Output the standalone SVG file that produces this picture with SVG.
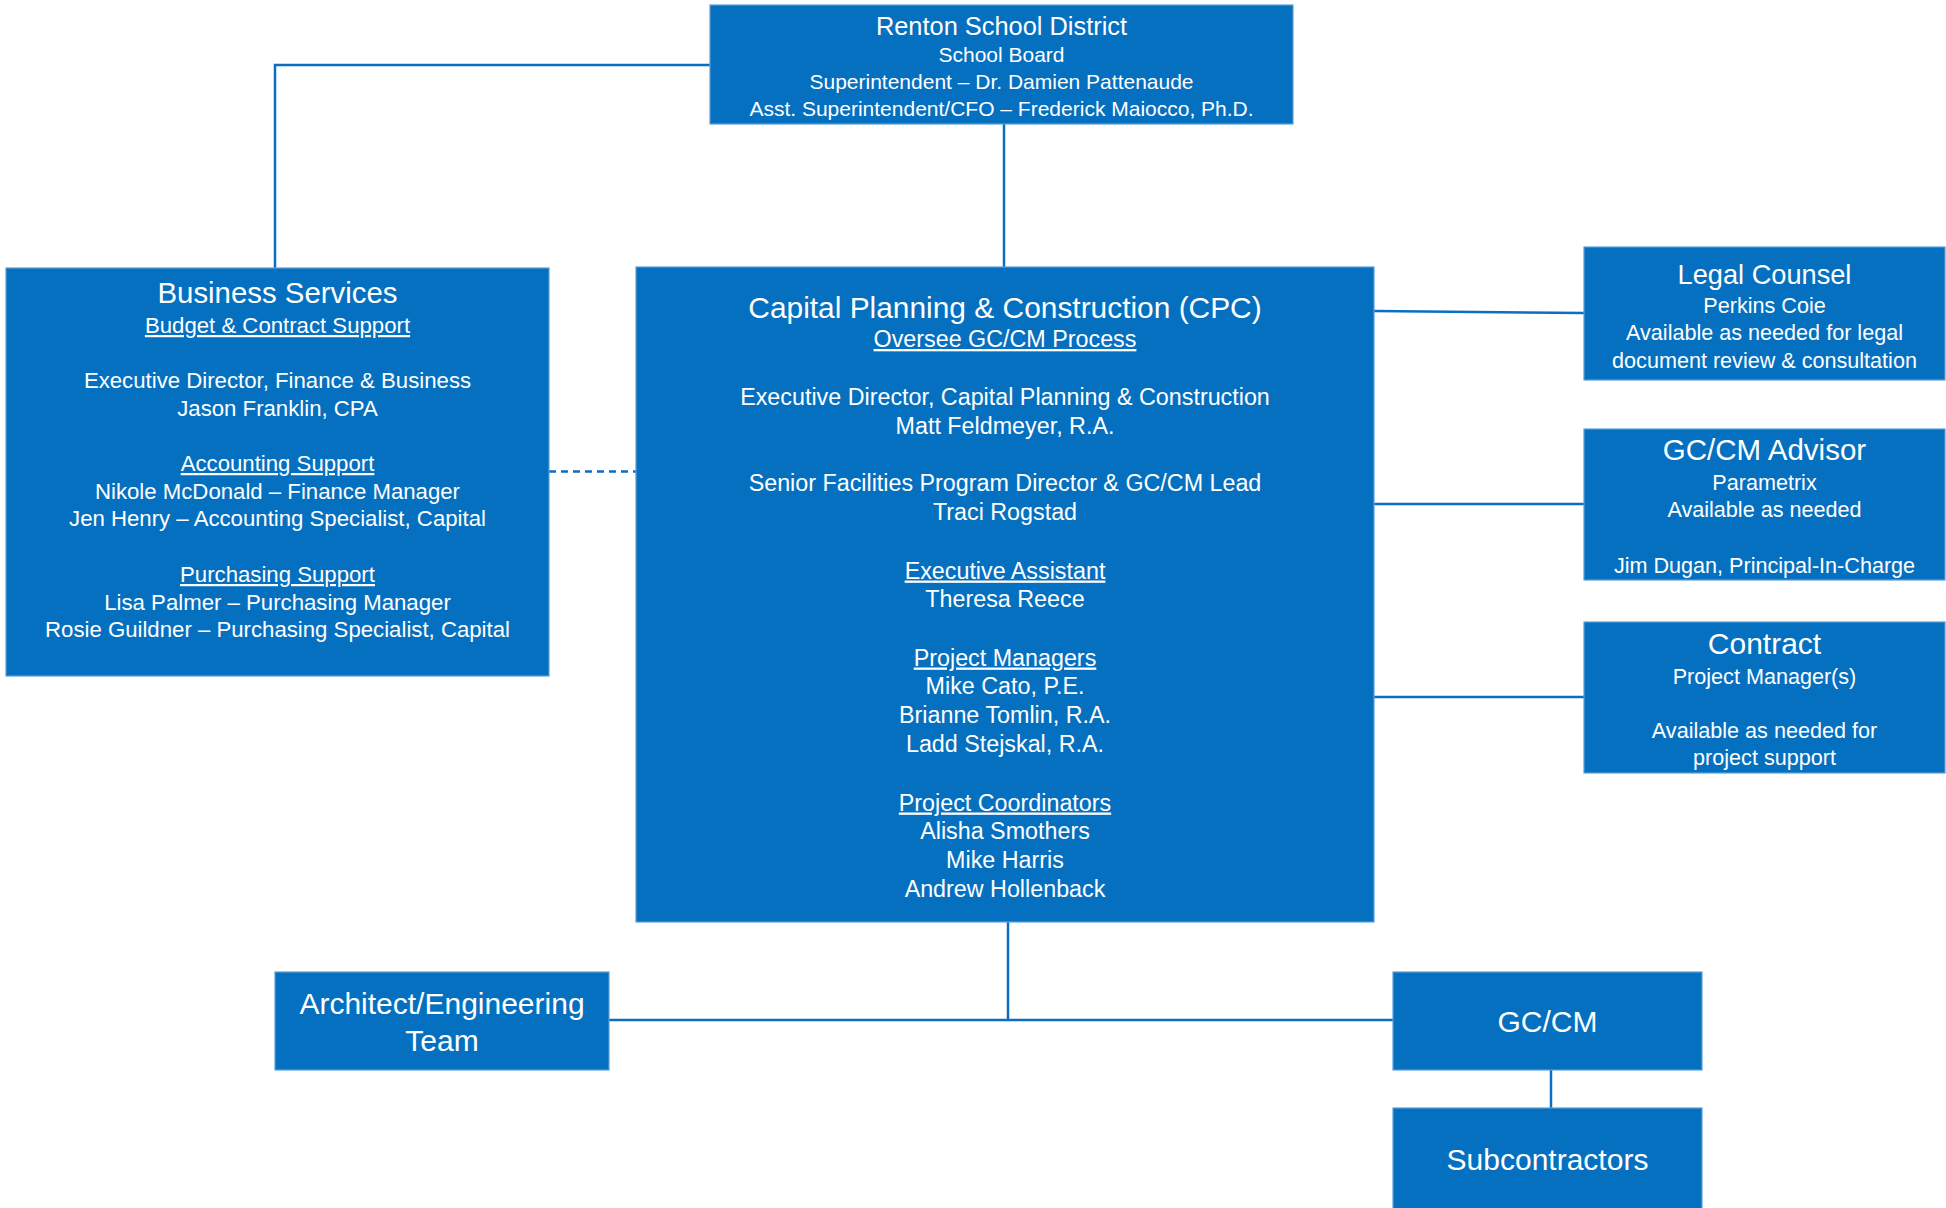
<svg xmlns="http://www.w3.org/2000/svg" width="1946" height="1208" viewBox="0 0 1946 1208">
  <style>
    .box { fill: #0570C0; stroke: #5A9FD8; stroke-width: 1.2; }
    .link { fill: none; stroke: #0A6EC2; stroke-width: 2.5; }
    .dash { stroke-dasharray: 7 5; }
    text { font-family: "Liberation Sans", Arial, sans-serif; fill: #FFFFFF; text-anchor: middle; }
    .t-top { font-size: 25.4px; }
    .b-top { font-size: 21px; }
    .t-bs { font-size: 29.4px; }
    .b-bs { font-size: 22.2px; }
    .t-cpc { font-size: 29.9px; }
    .b-cpc { font-size: 23.3px; }
    .t-side { font-size: 28px; }
    .b-side { font-size: 21.6px; }
    .t-low { font-size: 30px; }
    .u { text-decoration: underline; }
  </style>

  <!-- connectors -->
  <g id="connectors">
    <path class="link" d="M710 65 H275 V268"/>
    <path class="link" d="M1004 124 V267"/>
    <path class="link" d="M1374 311 L1584 313"/>
    <path class="link" d="M1374 504 H1584"/>
    <path class="link" d="M1374 697 H1584"/>
    <path class="link dash" d="M549 471.5 H636"/>
    <path class="link" d="M1008 922 V1020"/>
    <path class="link" d="M609 1020 H1393"/>
    <path class="link" d="M1551 1070 V1108"/>
  </g>

  <!-- district -->
  <g id="renton-school-district">
    <rect class="box" x="710" y="5" width="583" height="119"/>
    <text class="t-top" x="1001.5" y="35">Renton School District</text>
    <text class="b-top" x="1001.5" y="62">School Board</text>
    <text class="b-top" x="1001.5" y="89">Superintendent – Dr. Damien Pattenaude</text>
    <text class="b-top" x="1001.5" y="116">Asst. Superintendent/CFO – Frederick Maiocco, Ph.D.</text>
  </g>

  <!-- business services -->
  <g id="business-services">
    <rect class="box" x="6" y="268" width="543" height="408"/>
    <text class="t-bs" x="277.5" y="303">Business Services</text>
    <text class="b-bs u" x="277.5" y="333">Budget &amp; Contract Support</text>
    <text class="b-bs" x="277.5" y="388">Executive Director, Finance &amp; Business</text>
    <text class="b-bs" x="277.5" y="416">Jason Franklin, CPA</text>
    <text class="b-bs u" x="277.5" y="471">Accounting Support</text>
    <text class="b-bs" x="277.5" y="499">Nikole McDonald – Finance Manager</text>
    <text class="b-bs" x="277.5" y="526">Jen Henry – Accounting Specialist, Capital</text>
    <text class="b-bs u" x="277.5" y="582">Purchasing Support</text>
    <text class="b-bs" x="277.5" y="610">Lisa Palmer – Purchasing Manager</text>
    <text class="b-bs" x="277.5" y="637">Rosie Guildner – Purchasing Specialist, Capital</text>
  </g>

  <!-- capital planning & construction -->
  <g id="cpc">
    <rect class="box" x="636" y="267" width="738" height="655"/>
    <text class="t-cpc" x="1005" y="318">Capital Planning &amp; Construction (CPC)</text>
    <text class="b-cpc u" x="1005" y="347">Oversee GC/CM Process</text>
    <text class="b-cpc" x="1005" y="404.5">Executive Director, Capital Planning &amp; Construction</text>
    <text class="b-cpc" x="1005" y="433.5">Matt Feldmeyer, R.A.</text>
    <text class="b-cpc" x="1005" y="491">Senior Facilities Program Director &amp; GC/CM Lead</text>
    <text class="b-cpc" x="1005" y="520">Traci Rogstad</text>
    <text class="b-cpc u" x="1005" y="578.5">Executive Assistant</text>
    <text class="b-cpc" x="1005" y="607">Theresa Reece</text>
    <text class="b-cpc u" x="1005" y="665.5">Project Managers</text>
    <text class="b-cpc" x="1005" y="694">Mike Cato, P.E.</text>
    <text class="b-cpc" x="1005" y="723">Brianne Tomlin, R.A.</text>
    <text class="b-cpc" x="1005" y="752">Ladd Stejskal, R.A.</text>
    <text class="b-cpc u" x="1005" y="810.5">Project Coordinators</text>
    <text class="b-cpc" x="1005" y="839">Alisha Smothers</text>
    <text class="b-cpc" x="1005" y="868">Mike Harris</text>
    <text class="b-cpc" x="1005" y="897">Andrew Hollenback</text>
  </g>

  <!-- side advisors -->
  <g id="legal-counsel">
    <rect class="box" x="1584" y="247" width="361" height="133"/>
    <text class="t-side" x="1764.5" y="284" style="font-size:27.2px">Legal Counsel</text>
    <text class="b-side" x="1764.5" y="313">Perkins Coie</text>
    <text class="b-side" x="1764.5" y="340">Available as needed for legal</text>
    <text class="b-side" x="1764.5" y="368">document review &amp; consultation</text>
  </g>

  <g id="gccm-advisor">
    <rect class="box" x="1584" y="429" width="361" height="151"/>
    <text class="t-side" x="1764.5" y="460" style="font-size:29.5px">GC/CM Advisor</text>
    <text class="b-side" x="1764.5" y="490">Parametrix</text>
    <text class="b-side" x="1764.5" y="517">Available as needed</text>
    <text class="b-side" x="1764.5" y="573">Jim Dugan, Principal-In-Charge</text>
  </g>

  <g id="contract">
    <rect class="box" x="1584" y="622" width="361" height="151"/>
    <text class="t-side" x="1764.5" y="654" style="font-size:30px">Contract</text>
    <text class="b-side" x="1764.5" y="684">Project Manager(s)</text>
    <text class="b-side" x="1764.5" y="738">Available as needed for</text>
    <text class="b-side" x="1764.5" y="765">project support</text>
  </g>

  <!-- delivery team -->
  <g id="architect-engineering-team">
    <rect class="box" x="275" y="972" width="334" height="98"/>
    <text class="t-low" x="442" y="1014">Architect/Engineering</text>
    <text class="t-low" x="442" y="1051">Team</text>
  </g>

  <g id="gccm">
    <rect class="box" x="1393" y="972" width="309" height="98"/>
    <text class="t-low" x="1547.5" y="1032">GC/CM</text>
  </g>

  <g id="subcontractors">
    <rect class="box" x="1393" y="1108" width="309" height="104"/>
    <text class="t-low" x="1547.5" y="1170">Subcontractors</text>
  </g>
</svg>
